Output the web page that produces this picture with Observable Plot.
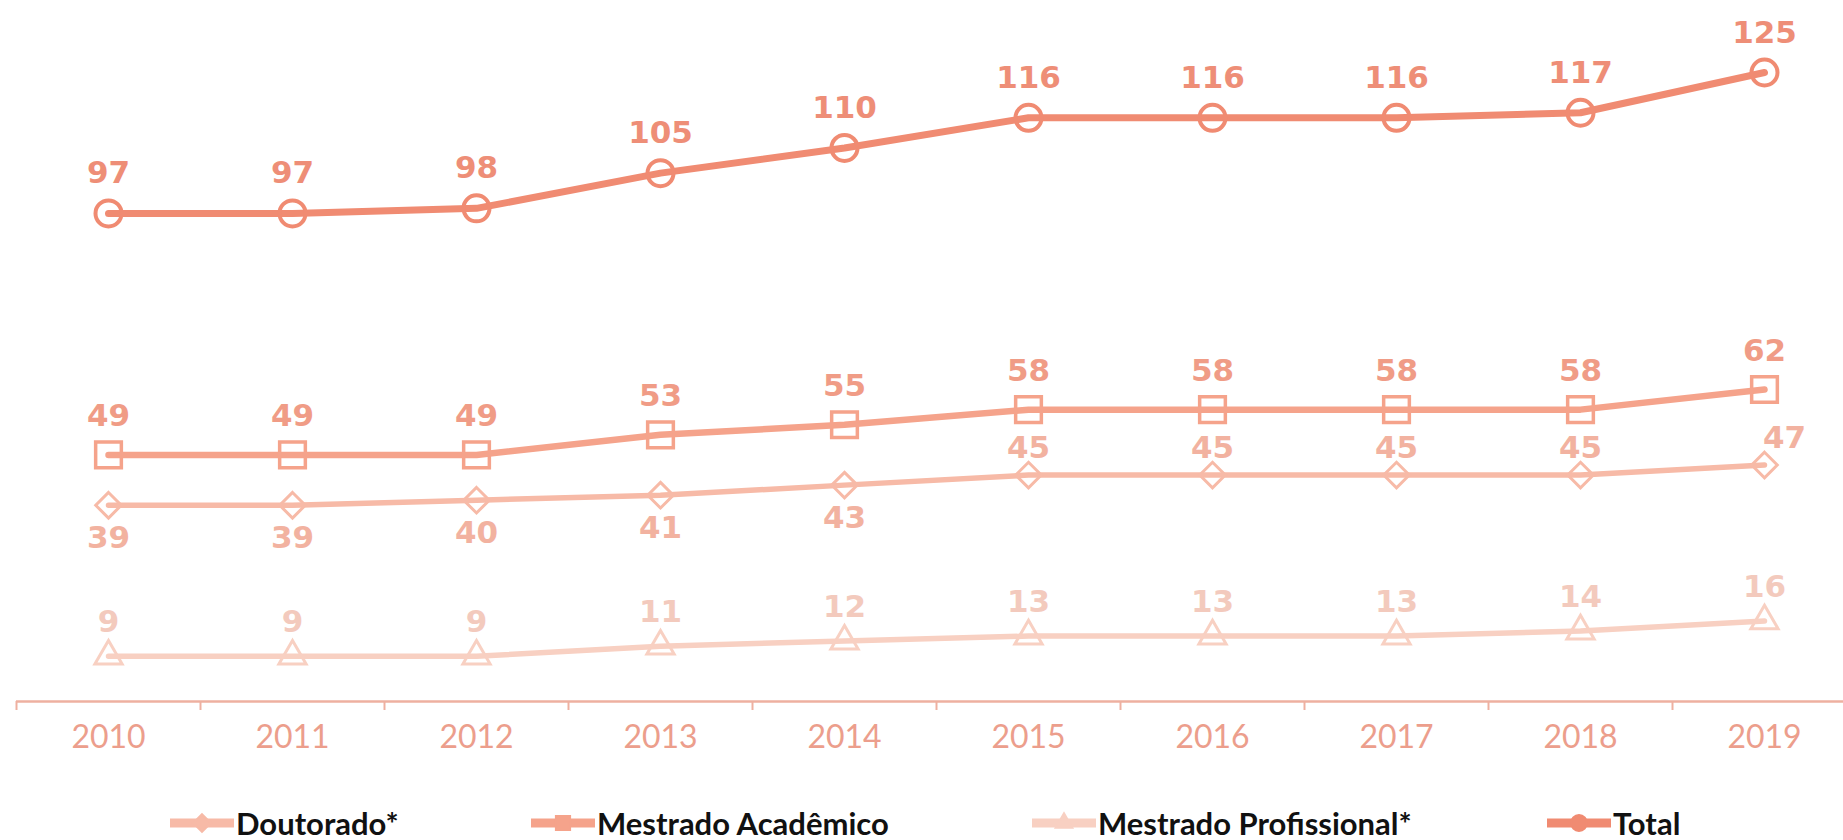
<!DOCTYPE html>
<html>
<head>
<meta charset="utf-8">
<script src="https://cdn.jsdelivr.net/npm/d3@7"></script>
<script src="https://cdn.jsdelivr.net/npm/@observablehq/plot@0.6"></script>
<style>
  html, body { margin: 0; padding: 0; background: #fff; overflow: hidden; }
  #chart { width: 1843px; height: 840px; position: relative; }
  #legend { position: relative; width: 1843px; height: 60px; }
  .item { position: absolute; top: 26px; height: 34px; display: flex; align-items: center; }
  .item span { font-family: Lato, sans-serif; font-weight: 700; font-size: 31px; color: #111; margin-left: 2px; white-space: nowrap; }
</style>
</head>
<body>
<div id="chart"></div>
<script>
// ---- data ----
const years = [2010, 2011, 2012, 2013, 2014, 2015, 2016, 2017, 2018, 2019];
const doutorado = [39, 39, 40, 41, 43, 45, 45, 45, 45, 47];
const mestradoAcademico = [49, 49, 49, 53, 55, 58, 58, 58, 58, 62];
const mestradoProfissional = [9, 9, 9, 11, 12, 13, 13, 13, 14, 16];
const total = [97, 97, 98, 105, 110, 116, 116, 116, 117, 125];
const seriesNames = ["Doutorado*", "Mestrado Acadêmico", "Mestrado Profissional*", "Total"];

// ---- styles ----
const styles = {
  "Doutorado*": {line: "#F7BAA7", label: "#F2B2A0", symbol: "diamond2", r: 11.5, sw: 3, lw: 5.5},
  "Mestrado Acadêmico": {line: "#F5A38B", label: "#F09C86", symbol: "square", r: 14.5, sw: 3.5, lw: 6.5},
  "Mestrado Profissional*": {line: "#F8D0C2", label: "#F3CABD", symbol: "triangle2", r: 13, sw: 3, lw: 5.5},
  "Total": {line: "#F08B72", label: "#EE8E77", symbol: "circle", r: 13, sw: 4, lw: 7}
};
const valueArrays = [doutorado, mestradoAcademico, mestradoProfissional, total];
const rows = seriesNames.flatMap((s, i) => years.map((y, j) => ({series: s, year: y, value: valueArrays[i][j]})));

const W = 1843, H = 780, mL = 16, mR = -13, mT = 72, mB = 79;
const step = (W - mL - mR) / years.length;
const axisColor = "#EEB0A0";
const labelFont = "'DejaVu Sans', sans-serif";
const lastYear = years[years.length - 1];

const marks = [
  Plot.ruleY([0], {stroke: axisColor, strokeWidth: 2.5}),
  Plot.axisX({ticks: years, tickSize: 9, label: null, tickFormat: () => "", dx: -step / 2, stroke: axisColor, strokeWidth: 2}),
  Plot.axisX({ticks: years, tickSize: 0, label: null, tickPadding: 24, fontSize: 32, fontFamily: "Lato, sans-serif", fill: "#EC9E8C", tickFormat: d => String(d)})
];

for (const s of seriesNames) {
  const st = styles[s];
  const data = rows.filter(d => d.series === s);
  marks.push(Plot.line(data, {x: "year", y: "value", stroke: st.line, strokeWidth: st.lw}));
}
for (const s of seriesNames) {
  const st = styles[s];
  const data = rows.filter(d => d.series === s);
  marks.push(Plot.dot(data, {x: "year", y: "value", symbol: () => st.symbol, r: st.r, stroke: st.line, strokeWidth: st.sw, fill: "none"}));
}
// labels
const lbl = (data, color, dy, anchor, dx = 0) => Plot.text(data, {
  x: "year", y: "value", text: d => String(d.value), fill: color, dx, dy, lineAnchor: anchor,
  fontFamily: labelFont, fontWeight: "bold", fontSize: 31
});
const rowsOf = s => rows.filter(d => d.series === s);
marks.push(lbl(rowsOf("Total"), styles["Total"].label, -30, "bottom"));
marks.push(lbl(rowsOf("Mestrado Acadêmico"), styles["Mestrado Acadêmico"].label, -29, "bottom"));
marks.push(lbl(rowsOf("Mestrado Profissional*"), styles["Mestrado Profissional*"].label, -24, "bottom"));
marks.push(lbl(rowsOf("Doutorado*").filter(d => d.year >= 2015 && d.year < lastYear), styles["Doutorado*"].label, -17, "bottom"));
marks.push(lbl(rowsOf("Doutorado*").filter(d => d.year === lastYear), styles["Doutorado*"].label, -17, "bottom", 20));
marks.push(lbl(rowsOf("Doutorado*").filter(d => d.year < 2015), styles["Doutorado*"].label, 21, "top"));

const chart = Plot.plot({
  width: W, height: H,
  marginLeft: mL, marginRight: mR, marginTop: mT, marginBottom: mB,
  x: {type: "point", domain: years, padding: 0.5, axis: null},
  y: {domain: [0, 125], axis: null},
  style: {background: "#fff", overflow: "visible"},
  marks
});
const root = document.getElementById("chart");
root.appendChild(chart);

// legend
const legend = document.createElement("div");
legend.id = "legend";
const legendLeft = {"Doutorado*": 170, "Mestrado Acadêmico": 531, "Mestrado Profissional*": 1032, "Total": 1547};
for (const s of seriesNames) {
  const st = styles[s];
  const item = document.createElement("div");
  item.className = "item";
  item.style.left = legendLeft[s] + "px";
  const sw = d3.create("svg").attr("width", 64).attr("height", 34);
  sw.append("line").attr("x1", 0).attr("x2", 64).attr("y1", 17).attr("y2", 17)
    .attr("stroke", st.line).attr("stroke-width", 9);
  const sym = {circle: d3.symbolCircle, square: d3.symbolSquare, diamond2: d3.symbolDiamond2, triangle2: d3.symbolTriangle2}[st.symbol];
  sw.append("path").attr("transform", "translate(32,17)")
    .attr("d", d3.symbol(sym, Math.PI * 8 * 8)())
    .attr("fill", st.line).attr("stroke", st.line).attr("stroke-width", 2);
  item.appendChild(sw.node());
  const t = document.createElement("span");
  t.textContent = s;
  item.appendChild(t);
  legend.appendChild(item);
}
root.appendChild(legend);
</script>
</body>
</html>
